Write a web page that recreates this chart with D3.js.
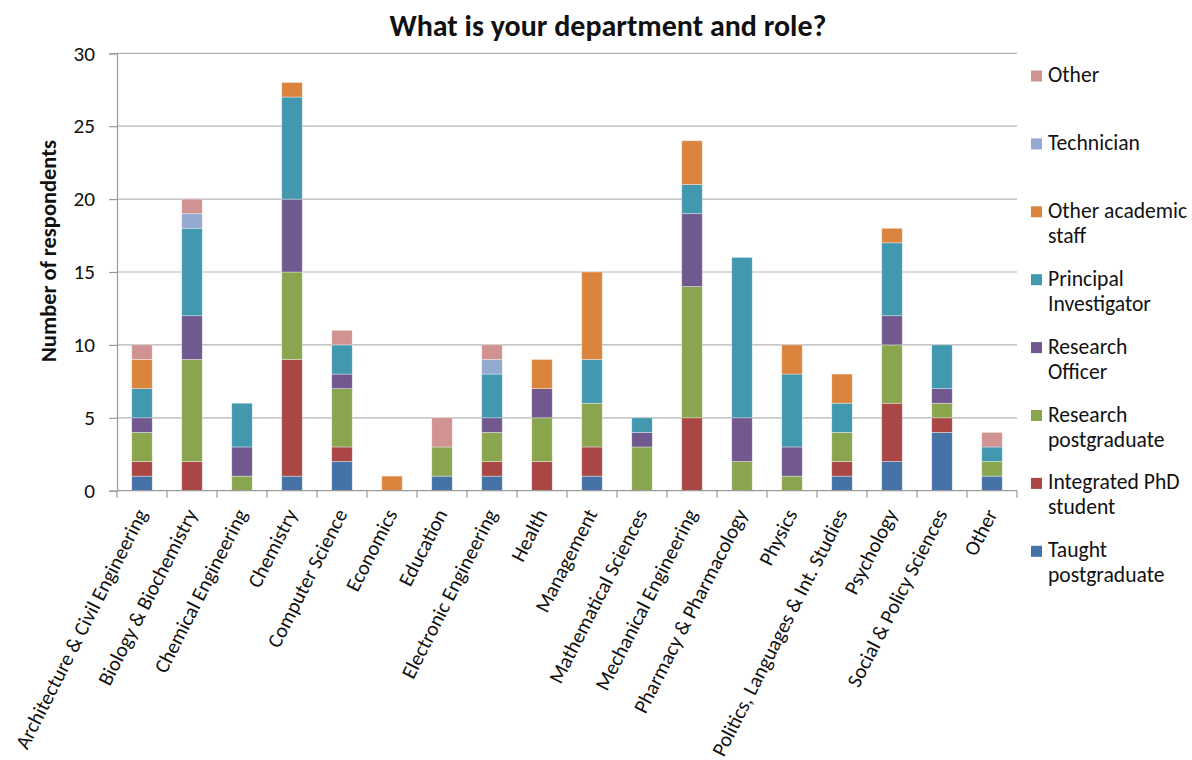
<!DOCTYPE html>
<html>
<head>
<meta charset="utf-8">
<script src="https://cdn.jsdelivr.net/npm/d3@7"></script>
<style>
  html, body { margin: 0; padding: 0; background: #fff; }
  svg { display: block; }
  text { font-family: Carlito, Lato, "Open Sans", sans-serif; fill: #111; }
</style>
</head>
<body>
<svg id="chart" width="1192" height="760"></svg>
<script>
const categories = [
  "Architecture & Civil Engineering", "Biology & Biochemistry", "Chemical Engineering",
  "Chemistry", "Computer Science", "Economics", "Education", "Electronic Engineering",
  "Health", "Management", "Mathematical Sciences", "Mechanical Engineering",
  "Pharmacy & Pharmacology", "Physics", "Politics, Languages & Int. Studies",
  "Psychology", "Social & Policy Sciences", "Other"
];
// Series, bottom to top of each stack
const seriesNames = [
  "Taught postgraduate", "Integrated PhD student", "Research postgraduate",
  "Research Officer", "Principal Investigator", "Other academic staff",
  "Technician", "Other"
];
const taughtPostgraduate    = [1, 0, 0, 1, 2, 0, 1, 1, 0, 1, 0, 0, 0, 0, 1, 2, 4, 1];
const integratedPhD         = [1, 2, 0, 8, 1, 0, 0, 1, 2, 2, 0, 5, 0, 0, 1, 4, 1, 0];
const researchPostgraduate  = [2, 7, 1, 6, 4, 0, 2, 2, 3, 3, 3, 9, 2, 1, 2, 4, 1, 1];
const researchOfficer       = [1, 3, 2, 5, 1, 0, 0, 1, 2, 0, 1, 5, 3, 2, 0, 2, 1, 0];
const principalInvestigator = [2, 6, 3, 7, 2, 0, 0, 3, 0, 3, 1, 2, 11, 5, 2, 5, 3, 1];
const otherAcademicStaff    = [2, 0, 0, 1, 0, 1, 0, 0, 2, 6, 0, 3, 0, 2, 2, 1, 0, 0];
const technician            = [0, 1, 0, 0, 0, 0, 0, 1, 0, 0, 0, 0, 0, 0, 0, 0, 0, 0];
const otherRole             = [1, 1, 0, 0, 1, 0, 2, 1, 0, 0, 0, 0, 0, 0, 0, 0, 0, 1];
const yTicks = [0, 5, 10, 15, 20, 25, 30];
const legendLabels = [
  ["Other"], ["Technician"], ["Other academic", "staff"], ["Principal", "Investigator"],
  ["Research", "Officer"], ["Research", "postgraduate"], ["Integrated PhD", "student"],
  ["Taught", "postgraduate"]
];
const seriesColors = ["#4572A7", "#AA4643", "#89A54E", "#71588F", "#4198AF", "#DB843D", "#93A9CF", "#D19392"];

const seriesValues = [taughtPostgraduate, integratedPhD, researchPostgraduate, researchOfficer,
  principalInvestigator, otherAcademicStaff, technician, otherRole];

const table = categories.map((c, i) => {
  const row = { category: c };
  seriesNames.forEach((s, j) => row[s] = seriesValues[j][i]);
  return row;
});

const svg = d3.select("#chart");
const plotLeft = 117, plotRight = 1017, plotTop = 53.3, plotBottom = 490.7;
const FONT = "Carlito, Lato, 'Open Sans', sans-serif";

const x = d3.scaleBand().domain(categories).range([plotLeft, plotRight])
  .paddingInner(0.59).paddingOuter(0.295);
const y = d3.scaleLinear().domain([0, 30]).range([plotBottom, plotTop]);
const color = d3.scaleOrdinal().domain(seriesNames).range(seriesColors);

// gridlines
svg.append("g").selectAll("line").data(yTicks.filter(t => t > 0)).join("line")
  .attr("x1", plotLeft).attr("x2", plotRight)
  .attr("y1", d => y(d)).attr("y2", d => y(d))
  .attr("stroke", "#b4b4b4").attr("stroke-width", 1.2);

// bars
const stack = d3.stack().keys(seriesNames)(table);
svg.append("g").selectAll("g").data(stack).join("g")
  .attr("fill", d => color(d.key))
  .selectAll("rect").data(d => d.filter(p => p[1] > p[0])).join("rect")
  .attr("x", d => x(d.data.category))
  .attr("width", x.bandwidth())
  .attr("y", d => y(d[1]))
  .attr("height", d => y(d[0]) - y(d[1]))
  .attr("stroke", "#ffffff").attr("stroke-opacity", 0.5).attr("stroke-width", 0.7);

// y axis
const yAxis = svg.append("g").attr("transform", `translate(${plotLeft},0)`)
  .call(d3.axisLeft(y).tickValues(yTicks).tickSize(8).tickPadding(14));
yAxis.attr("font-family", null);
yAxis.select(".domain").attr("stroke", "#9a9a9a").attr("stroke-width", 1.2);
yAxis.selectAll(".tick line").attr("stroke", "#9a9a9a").attr("stroke-width", 1.2);
const yt = yAxis.selectAll(".tick text").attr("font-size", 17).attr("fill", "#111")
  .style("font-family", FONT);
const ytNode = yt.filter(d => d === 30).node();
const ytFs = 17 * 21.5 / ytNode.getComputedTextLength();
yt.attr("font-size", ytFs);

// x axis
const xAxis = svg.append("g").attr("transform", `translate(0,${plotBottom})`);
xAxis.append("line").attr("x1", plotLeft).attr("x2", plotRight).attr("y1", 0).attr("y2", 0)
  .attr("stroke", "#9a9a9a").attr("stroke-width", 1.2);
const step = x.step();
const boundaries = d3.range(categories.length + 1).map(i => plotLeft + i * step);
xAxis.selectAll("line.tk").data(boundaries).join("line").attr("class", "tk")
  .attr("x1", d => d).attr("x2", d => d).attr("y1", 0).attr("y2", 7)
  .attr("stroke", "#9a9a9a").attr("stroke-width", 1.2);
const xl = xAxis.selectAll("text.xl").data(categories).join("text").attr("class", "xl")
  .attr("text-anchor", "end")
  .attr("font-size", 17)
  .attr("transform", d => `translate(${x(d) + x.bandwidth() / 2 + 6},${23}) rotate(-63)`)
  .text(d => d);
const firstLen = xl.node().getComputedTextLength();
const xFs = 17 * 266 / firstLen;
xl.attr("font-size", xFs);

// title
const title = svg.append("text").attr("x", 608).attr("y", 36).attr("text-anchor", "middle")
  .attr("font-weight", "bold").attr("font-size", 22)
  .text("What is your department and role?");
const tl = title.node().getComputedTextLength();
title.attr("font-size", 22 * 437 / tl);

// y axis title
const yTitle = svg.append("text").attr("transform", "translate(56,251) rotate(-90)")
  .attr("text-anchor", "middle").attr("font-size", 17).attr("font-weight", "600")
  .text("Number of respondents");
const ytl = yTitle.node().getComputedTextLength();
yTitle.attr("font-size", 17 * 222 / ytl);

// legend
const legend = svg.append("g");
const legendOrder = seriesNames.slice().reverse();
legendOrder.forEach((s, i) => {
  const cy = 76 + i * 67.9;
  const g = legend.append("g");
  g.append("rect").attr("x", 1031).attr("y", cy - 5.5).attr("width", 11).attr("height", 11)
    .attr("fill", color(s));
  legendLabels[i].forEach((line, k) => {
    g.append("text").attr("x", 1048).attr("y", cy + 6 + k * 25)
      .attr("font-size", 17.5).attr("class", "lg").text(line);
  });
});
const techNode = legend.selectAll("text.lg").filter(function() { return this.textContent === "Technician"; }).node();
const lgFs = 17.5 * 92 / techNode.getComputedTextLength();
legend.selectAll("text.lg").attr("font-size", lgFs);
</script>
</body>
</html>
